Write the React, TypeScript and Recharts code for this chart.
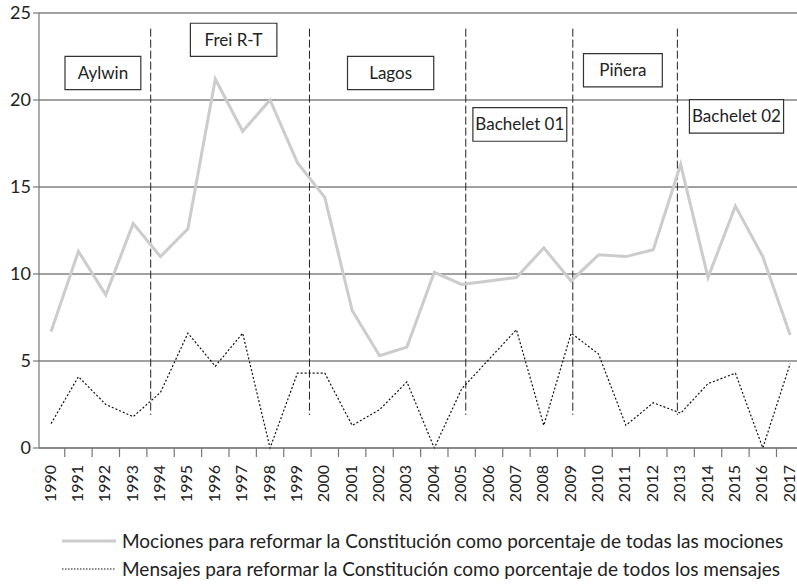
import { LineChart, Line, XAxis, YAxis, CartesianGrid, ReferenceLine, ReferenceArea } from "recharts";

// años del período
const years = [
  1990, 1991, 1992, 1993, 1994, 1995, 1996, 1997, 1998, 1999, 2000, 2001, 2002, 2003,
  2004, 2005, 2006, 2007, 2008, 2009, 2010, 2011, 2012, 2013, 2014, 2015, 2016, 2017,
];

// % mociones para reformar la Constitución
const mociones = [
  6.7, 11.3, 8.8, 12.9, 11.0, 12.6, 21.2, 18.2, 20.0, 16.4, 14.4, 7.9, 5.3, 5.8,
  10.1, 9.4, 9.6, 9.8, 11.5, 9.6, 11.1, 11.0, 11.4, 16.3, 9.8, 13.9, 11.0, 6.5,
];

// % mensajes para reformar la Constitución
const mensajes = [
  1.4, 4.1, 2.5, 1.8, 3.2, 6.6, 4.7, 6.6, 0, 4.3, 4.3, 1.3, 2.2, 3.8,
  0, 3.4, 5.1, 6.8, 1.3, 6.6, 5.4, 1.3, 2.6, 2.0, 3.7, 4.3, 0, 4.85,
];

const yTicks = [0, 5, 10, 15, 20, 25];

// cambios de gobierno (líneas verticales)
const cambios = [1993.64, 1999.44, 2005.15, 2009.06, 2012.88];

// etiquetas de gobierno
const gobiernos = ["Aylwin", "Frei R-T", "Lagos", "Bachelet 01", "Piñera", "Bachelet 02"];
const cajas = [
  { x1: 1990.51, x2: 1993.28, y1: 20.6, y2: 22.51 },
  { x1: 1995.09, x2: 1998.25, y1: 22.51, y2: 24.41 },
  { x1: 2000.83, x2: 2003.98, y1: 20.6, y2: 22.51 },
  { x1: 2005.41, x2: 2008.84, y1: 17.63, y2: 19.56 },
  { x1: 2009.45, x2: 2012.33, y1: 20.75, y2: 22.67 },
  { x1: 2013.32, x2: 2016.76, y1: 18.1, y2: 20.02 },
];

const data = years.map((year, i) => ({ year, mociones: mociones[i], mensajes: mensajes[i] }));

const FONT = "Lato, 'Open Sans', sans-serif";

const YearTick = (props: any) => {
  const { x, y, payload } = props;
  return (
    <g>
      <line x1={x + 13.7} x2={x + 13.7} y1={y} y2={y + 9} stroke="#777" strokeWidth={1.2} />
      <text
        x={0}
        y={0}
        transform={`translate(${x - 2},${y + 17}) rotate(-90)`}
        textAnchor="end"
        dominantBaseline="central"
        fontSize={16}
        fill="#222"
        fontFamily={FONT}
      >
        {payload.value}
      </text>
    </g>
  );
};

export default function App() {
  return (
    <div style={{ position: "absolute", left: 0, top: 0, width: 797, height: 585, background: "#fff", fontFamily: FONT }}>
      <LineChart width={797} height={585} data={data} margin={{ top: 13, right: 0, left: 0, bottom: 0 }}>
        <CartesianGrid vertical={false} stroke="#444" strokeWidth={1} />
        <XAxis
          dataKey="year"
          type="number"
          domain={[1989.56, 2017.25]}
          allowDataOverflow
          ticks={years}
          interval={0}
          tickLine={false}
          tickSize={0}
          tickMargin={0}
          height={137}
          stroke="#777"
          strokeWidth={1.2}
          tick={<YearTick />}
        />
        <YAxis
          domain={[0, 25]}
          ticks={yTicks}
          width={39}
          stroke="#777"
          strokeWidth={1.2}
          tickSize={6}
          tick={{ fontSize: 18, fill: "#222", fontFamily: FONT }}
        />
        {cambios.map((x) => (
          <ReferenceLine
            key={x}
            segment={[{ x, y: 24.1 }, { x, y: 1.9 }]}
            stroke="#222"
            strokeDasharray="8 3"
            strokeWidth={1}
          />
        ))}
        <Line
          type="linear"
          dataKey="mociones"
          stroke="#cccccc"
          strokeWidth={3}
          dot={false}
          isAnimationActive={false}
        />
        <Line
          type="linear"
          dataKey="mensajes"
          stroke="#111"
          strokeWidth={1.2}
          strokeDasharray="2 2"
          dot={false}
          isAnimationActive={false}
        />
        {gobiernos.map((name, i) => (
          <ReferenceArea
            key={name}
            x1={cajas[i].x1}
            x2={cajas[i].x2}
            y1={cajas[i].y1}
            y2={cajas[i].y2}
            fill="#fff"
            fillOpacity={1}
            stroke="#333"
            strokeWidth={1.2}
            label={{ value: name, position: "center", fill: "#222", fontSize: 17, fontFamily: FONT }}
          />
        ))}
      </LineChart>
      <div style={{ position: "absolute", left: 62, top: 527, fontSize: 19, color: "#222", lineHeight: "28px" }}>
        <div style={{ display: "flex", alignItems: "center", whiteSpace: "nowrap" }}>
          <svg width={56} height={10}>
            <line x1={0} x2={54} y1={5} y2={5} stroke="#cccccc" strokeWidth={3} />
          </svg>
          <span style={{ marginLeft: 4 }}>Mociones para reformar la Constitución como porcentaje de todas las mociones</span>
        </div>
        <div style={{ display: "flex", alignItems: "center", whiteSpace: "nowrap" }}>
          <svg width={56} height={10}>
            <line x1={0} x2={54} y1={5} y2={5} stroke="#111" strokeWidth={1.2} strokeDasharray="1.5 1.5" />
          </svg>
          <span style={{ marginLeft: 4 }}>Mensajes para reformar la Constitución como porcentaje de todos los mensajes</span>
        </div>
      </div>
    </div>
  );
}
